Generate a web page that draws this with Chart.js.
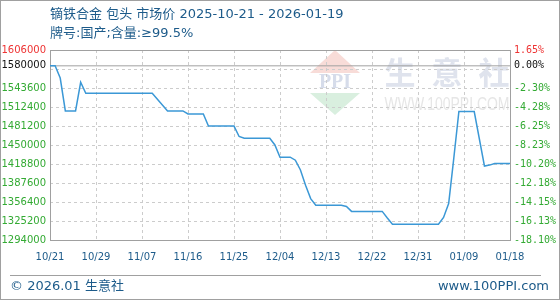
<!DOCTYPE html>
<html>
<head>
<meta charset="utf-8">
<script src="https://cdn.jsdelivr.net/npm/chart.js@4.4.0/dist/chart.umd.min.js"></script>
<style>
  body { margin: 0; background: #fff; }
  #wrap { position: relative; width: 560px; height: 300px; overflow: hidden; background: #fff;
          font-family: "DejaVu Sans", "Noto Sans CJK SC", sans-serif; color: #1d5b8a; }
  #chart { position: absolute; left: 0; top: 0; }
  .frame { position: absolute; left: 0; top: 0; width: 558px; height: 298px; border: 1px solid #a0a0a0; pointer-events: none; }
  .title { position: absolute; left: 50px; font-size: 13px; white-space: nowrap; line-height: 16px; }
  .foot { position: absolute; top: 278px; font-size: 13px; line-height: 16px; white-space: nowrap; }
  .rule { position: absolute; left: 10px; top: 275px; width: 531px; height: 1px; background: #a0a0a0; }
</style>
</head>
<body>
<div id="wrap">
  <canvas id="chart" width="560" height="300"></canvas>
  <div class="title" style="top:6px">镝铁合金 包头 市场价 2025-10-21 - 2026-01-19</div>
  <div class="title" style="top:25px">牌号:国产;含量:≥99.5%</div>
  <div class="rule"></div>
  <div class="foot" style="left:10px">© 2026.01 生意社</div>
  <div class="foot" style="right:11px">www.100PPI.com</div>
  <div class="frame"></div>
</div>
<script>
// day offsets from 2025-10-21 and the price on that day (yuan/ton)
const days = [0, 1, 2, 3, 5, 6, 7, 20, 23, 26, 27, 30, 31, 36, 37, 38, 43, 44, 45, 47, 48, 49, 50, 51, 52,
              57, 58, 59, 65, 66, 67, 76, 77, 78, 79, 80, 83, 85, 86, 87, 90];
const prices = [1580000, 1580000, 1560000, 1506000, 1506000, 1553000, 1535000, 1535000, 1506000, 1506000,
                1501000, 1501000, 1481000, 1481000, 1464000, 1461000, 1461000, 1450000, 1430000, 1430000,
                1425000, 1409000, 1384000, 1362000, 1351000, 1351000, 1349000, 1341000, 1341000, 1330000,
                1320000, 1320000, 1331000, 1354000, 1428000, 1505000, 1505000, 1415500, 1417000, 1419500, 1419500];
const basePrice = 1580000;

const xTickDays = [0, 9, 18, 27, 36, 45, 54, 63, 72, 81, 90];
const xTickLabels = ['10/21', '10/29', '11/07', '11/16', '11/25', '12/04', '12/13', '12/22', '12/31', '01/09', '01/18'];

const yGridValues = [1294000, 1325200, 1356400, 1387600, 1418800, 1450000, 1481200, 1512400, 1543600, 1574800, 1606000];
const yTickValues = [1606000, 1580000, 1543600, 1512400, 1481200, 1450000, 1418800, 1387600, 1356400, 1325200, 1294000];
const pctLabels = ['1.65%', '0.00%', '-2.30%', '-4.28%', '-6.25%', '-8.23%', '-10.20%', '-12.18%', '-14.15%', '-16.13%', '-18.10%'];

const yMin = 1294000, yMax = 1606000;
const allYTicks = [...new Set([...yGridValues, ...yTickValues])].sort((a, b) => a - b);

function tickColor(v) {
  if (v === yMax) return '#ee3333';
  if (v === basePrice) return '#111111';
  return '#33aa33';
}

const watermark = {
  id: 'watermark',
  beforeDraw(chart) {
    const ctx = chart.ctx;
    ctx.save();
    // logo triangles
    ctx.fillStyle = '#f8dcd8';
    ctx.beginPath(); ctx.moveTo(335, 50); ctx.lineTo(360, 73); ctx.lineTo(310, 73); ctx.closePath(); ctx.fill();
    ctx.fillStyle = '#d9efdf';
    ctx.beginPath(); ctx.moveTo(310, 93); ctx.lineTo(360, 93); ctx.lineTo(335, 115); ctx.closePath(); ctx.fill();
    ctx.fillStyle = '#d6dcea';
    ctx.font = 'bold 20px "Liberation Serif"';
    ctx.textAlign = 'center';
    ctx.textBaseline = 'middle';
    ctx.fillText('PPI', 335, 83, 46);
    ctx.fillStyle = '#dfe3ed';
    ctx.font = 'bold 31px "Noto Sans CJK SC"';
    ctx.fillText('生', 400, 72);
    ctx.fillText('意', 447, 72);
    ctx.fillText('社', 494, 72);
    ctx.fillStyle = '#e6e6e6';
    ctx.font = '18px "Liberation Sans"';
    ctx.fillText('WWW.100PPI.COM', 447, 105, 125);
    ctx.restore();
  },
  beforeDatasetsDraw(chart) {
    const a = chart.chartArea, ctx = chart.ctx;
    ctx.save();
    ctx.strokeStyle = '#a0a0a0';
    ctx.lineWidth = 1;
    ctx.strokeRect(a.left + 0.5, a.top + 0.5, a.right - a.left, a.bottom - a.top);
    ctx.restore();
  }
};

new Chart(document.getElementById('chart'), {
  type: 'line',
  data: {
    datasets: [{
      data: days.map((d, i) => ({ x: d, y: prices[i] })),
      borderColor: '#3b98d6',
      borderWidth: 1.5,
      pointRadius: 0,
      tension: 0
    }, {
      data: [{ x: 0, y: basePrice }, { x: 90, y: basePrice }],
      borderColor: '#a0a0a0',
      borderWidth: 1,
      pointRadius: 0
    }]
  },
  options: {
    responsive: false,
    animation: false,
    layout: { padding: { top: 50, left: 0, right: 0, bottom: 0 } },
    plugins: { legend: { display: false }, tooltip: { enabled: false } },
    scales: {
      x: {
        type: 'linear', min: 0, max: 90,
        afterBuildTicks: s => { s.ticks = xTickDays.map(v => ({ value: v })); },
        afterFit: s => { s.height = 60; },
        ticks: {
          autoSkip: false, maxRotation: 0, padding: 11, color: '#1d5b8a',
          font: { family: 'DejaVu Sans', size: 10 },
          callback: v => xTickLabels[xTickDays.indexOf(v)]
        },
        grid: { color: '#cccccc', drawTicks: false },
        border: { display: false, dash: [3, 3] }
      },
      y: {
        position: 'left', min: yMin, max: yMax,
        afterBuildTicks: s => { s.ticks = allYTicks.map(v => ({ value: v })); },
        afterFit: s => { s.width = 50; },
        ticks: {
          autoSkip: false, padding: 4,
          font: { family: 'DejaVu Sans', size: 10 },
          color: c => tickColor(c.tick.value),
          callback: v => yTickValues.includes(v) ? String(v) : ''
        },
        grid: { drawTicks: false, color: c => (c.tick && c.tick.value === basePrice) ? 'rgba(0,0,0,0)' : '#cccccc' },
        border: { display: false, dash: [3, 3] }
      },
      y1: {
        position: 'right', min: yMin, max: yMax,
        afterBuildTicks: s => { s.ticks = yTickValues.slice().reverse().map(v => ({ value: v })); },
        afterFit: s => { s.width = 50; },
        ticks: {
          autoSkip: false, padding: 4,
          font: { family: 'DejaVu Sans Mono', size: 10 },
          color: c => tickColor(c.tick.value),
          callback: v => pctLabels[yTickValues.indexOf(v)]
        },
        grid: { drawOnChartArea: false, drawTicks: false },
        border: { display: false }
      }
    }
  },
  plugins: [watermark]
});
</script>
</body>
</html>
